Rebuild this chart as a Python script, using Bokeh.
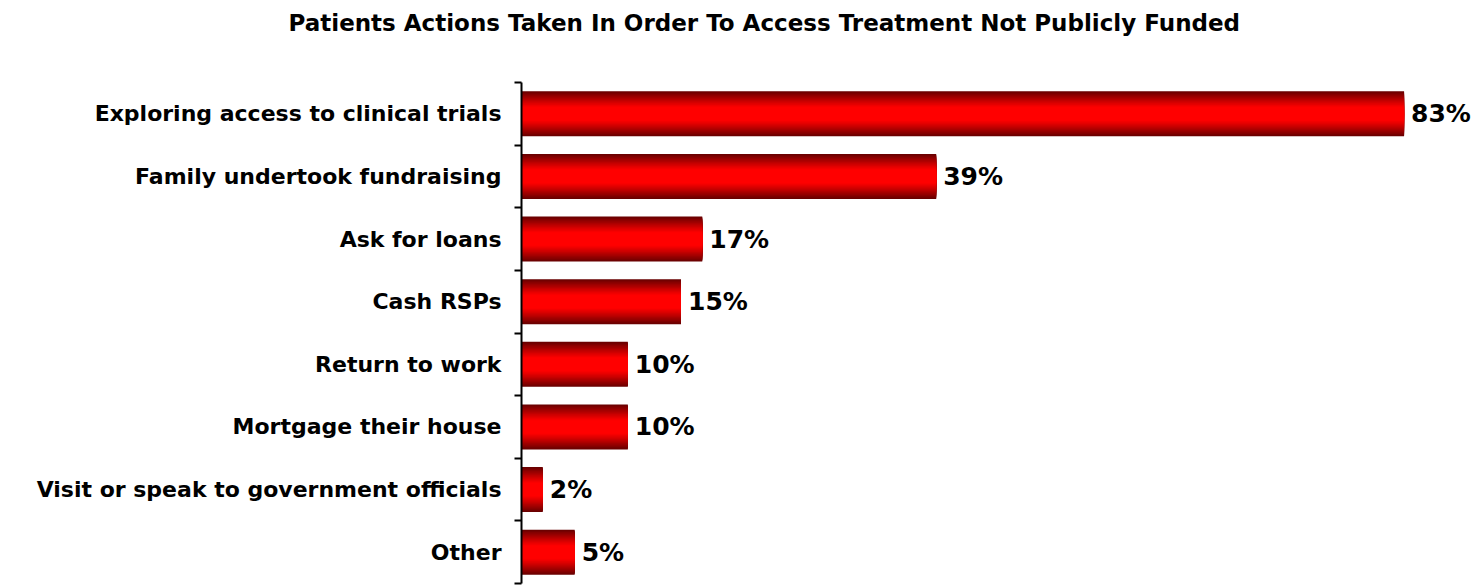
from bokeh.plotting import figure
from bokeh.models import Range1d, FixedTicker, ColumnDataSource, LabelSet, Title
from bokeh.core.properties import value
from bokeh.embed import file_html
from bokeh.resources import INLINE

title = "Patients Actions Taken In Order To Access Treatment Not Publicly Funded"
categories = ["Exploring access to clinical trials", "Family undertook fundraising",
              "Ask for loans", "Cash RSPs", "Return to work", "Mortgage their house",
              "Visit or speak to government officials", "Other"]
values = [83, 39, 17, 15, 10, 10, 2, 5]
value_labels = ["83%", "39%", "17%", "15%", "10%", "10%", "2%", "5%"]

n = len(categories)
ypos = [n - i for i in range(n)]

FONT = "DejaVu Sans"

p = figure(width=1478, height=586, output_backend="svg", toolbar_location=None,
           x_range=Range1d(0, 90.0), y_range=Range1d(0.5, n + 0.5),
           min_border_left=521, min_border_right=0, min_border_top=82, min_border_bottom=3)
p.outline_line_color = None
p.xgrid.visible = False
p.ygrid.visible = False
p.xaxis.visible = False
p.background_fill_color = "white"
p.border_fill_color = "white"

p.title.text = title
p.title.align = "left"
p.title.offset = -233
p.title.text_font = FONT
p.title.text_font_style = "bold"
p.title.text_font_size = "23px"
p.title.text_color = "black"

# empty spacer between the frame and the title
p.add_layout(Title(text=" ", text_font_size="27px"), "above")

# gradient bars built from stacked layers
N = 28
bar_h = 0.72
dark = (105, 0, 0)
bright = (255, 0, 0)
for k in range(N):
    d = 1 - k / N
    t = max(0.0, min(1.0, (d - 0.3) / 0.7)) ** 1.1
    r = int(bright[0] + (dark[0] - bright[0]) * t)
    col = "#%02x%02x%02x" % (r, 0, 0)
    p.hbar(y=ypos, right=values, left=0, height=bar_h * d, fill_color=col, line_color=None)

src = ColumnDataSource(dict(y=ypos, x=values, t=value_labels))
p.add_layout(LabelSet(x="x", y="y", text="t", source=src, x_offset=7,
                      text_baseline="middle", text_align="left",
                      text_font=value(FONT), text_font_style="bold",
                      text_font_size="25px", text_color="black"))

ax = p.yaxis[0]
ax.ticker = FixedTicker(ticks=ypos, minor_ticks=[i + 0.5 for i in range(n + 1)])
ax.major_label_overrides = {y: c for y, c in zip(ypos, categories)}
ax.major_tick_out = 0
ax.major_tick_in = 0
ax.minor_tick_out = 7
ax.minor_tick_in = 0
ax.minor_tick_line_width = 2
ax.minor_tick_line_color = "black"
ax.axis_line_width = 2
ax.axis_line_color = "black"
ax.major_label_standoff = 13
ax.major_label_text_font = FONT
ax.major_label_text_font_style = "bold"
ax.major_label_text_font_size = "22px"
ax.major_label_text_color = "black"

open("out.html", "w").write(file_html(p, INLINE))
